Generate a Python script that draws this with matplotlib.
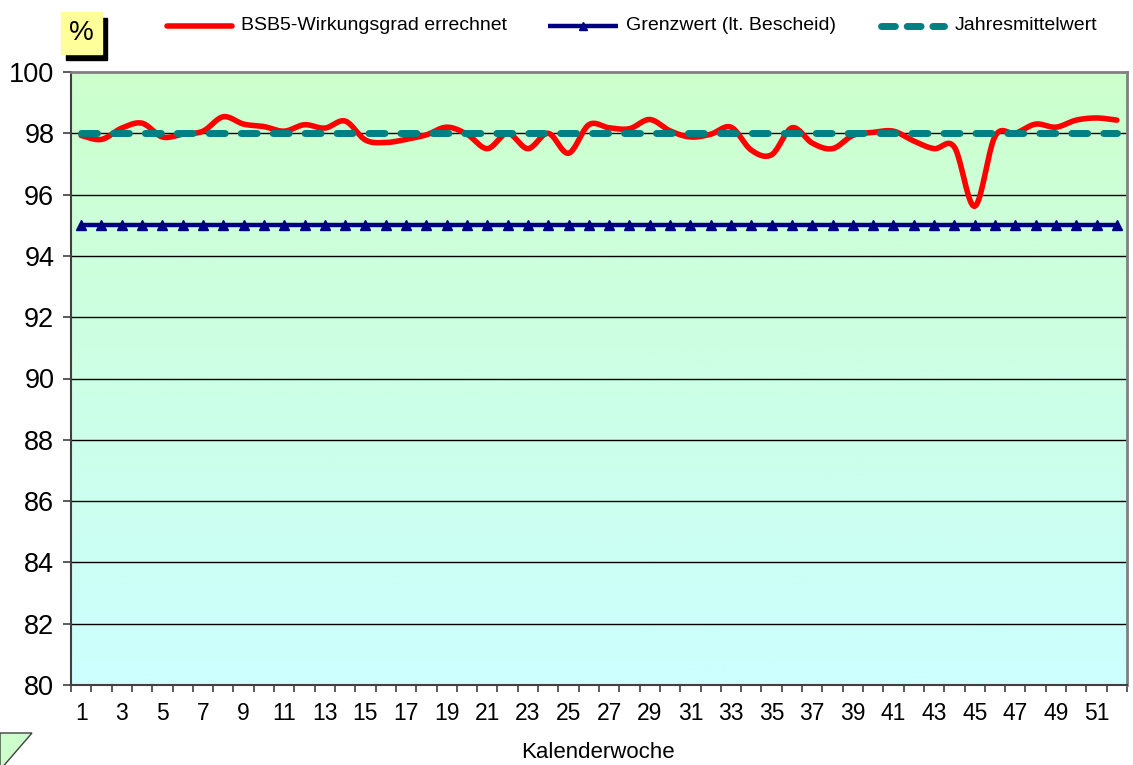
import numpy as np
import matplotlib
matplotlib.use("Agg")
import matplotlib.pyplot as plt
from matplotlib.lines import Line2D
from matplotlib.patches import Rectangle, Polygon

plt.rcParams['font.family'] = ['Liberation Sans', 'DejaVu Sans']

# Daten: BSB5-Wirkungsgrad je Kalenderwoche
wochen = np.arange(1, 53)
wirkungsgrad = [97.93, 97.80, 98.17, 98.33, 97.88, 97.97, 98.07, 98.54, 98.30, 98.22,
                98.07, 98.28, 98.17, 98.40, 97.78, 97.70, 97.80, 97.95, 98.20, 97.97,
                97.50, 98.00, 97.50, 98.00, 97.35, 98.28, 98.18, 98.15, 98.45, 98.08,
                97.88, 97.97, 98.20, 97.45, 97.30, 98.18, 97.68, 97.50, 97.93, 98.03,
                98.07, 97.75, 97.50, 97.55, 95.62, 97.90, 98.00, 98.30, 98.20, 98.43,
                98.50, 98.43]
grenzwert = [95.0] * 52
jahresmittel = [98.0] * 52
x_labels = [str(w) for w in range(1, 53, 2)]

legende = ["BSB5-Wirkungsgrad errechnet", "Grenzwert (lt. Bescheid)", "Jahresmittelwert"]


def glatt(x, y, n=20):
    # Excel-artige Glaettung (Bezier mit Catmull-Rom Kontrollpunkten)
    x = np.asarray(x, float)
    y = np.asarray(y, float)
    px = np.concatenate([[x[0]], x, [x[-1]]])
    py = np.concatenate([[y[0]], y, [y[-1]]])
    t = np.linspace(0, 1, n)[:, None]
    xs, ys = [], []
    for i in range(1, len(px) - 2):
        p0 = np.array([px[i], py[i]])
        p3 = np.array([px[i + 1], py[i + 1]])
        p1 = p0 + (np.array([px[i + 1], py[i + 1]]) - np.array([px[i - 1], py[i - 1]])) / 6
        p2 = p3 - (np.array([px[i + 2], py[i + 2]]) - np.array([px[i], py[i]])) / 6
        b = ((1 - t) ** 3) * p0 + 3 * ((1 - t) ** 2) * t * p1 + 3 * (1 - t) * t ** 2 * p2 + t ** 3 * p3
        xs.append(b[:, 0])
        ys.append(b[:, 1])
    return np.concatenate(xs), np.concatenate(ys)


W, H = 1133, 765
fig = plt.figure(figsize=(11.33, 7.65), dpi=100)
ax = fig.add_axes([71 / W, 1 - 685 / H, (1127 - 71) / W, (685 - 72) / H])

# Farbverlauf Hintergrund
verlauf = np.linspace(0, 1, 256)[:, None]
farben = np.zeros((256, 1, 3))
oben = np.array([204, 255, 204]) / 255
unten = np.array([204, 255, 255]) / 255
farben[:, 0, :] = oben * (1 - verlauf) + unten * verlauf
ax.imshow(farben, extent=[0.5, 52.5, 80, 100], aspect='auto', zorder=0)

ax.set_xlim(0.5, 52.5)
ax.set_ylim(80, 100)

for g in range(82, 100, 2):
    ax.axhline(g, color='black', lw=1.0, zorder=1)

ax.plot(wochen, grenzwert, color='#000080', lw=3.2, marker='^', markersize=7,
        zorder=3, solid_capstyle='butt')
ax.plot(wochen, jahresmittel, color='#008080', lw=5, dashes=(2.3, 2.3),
        dash_capstyle='round', zorder=4)
sx, sy = glatt(wochen, wirkungsgrad)
ax.plot(sx, sy, color='#FF0000', lw=4, zorder=3, solid_capstyle='round')

ax.set_yticks(range(80, 101, 2))
ax.set_xticks(np.arange(0.5, 53, 1))
ax.set_xticklabels([])
ax.set_xticks(range(1, 53, 2), minor=True)
ax.set_xticklabels(x_labels, minor=True, fontsize=16.5)
ax.tick_params(axis='x', which='major', direction='out', length=5, width=1.2, color='#404040')
ax.tick_params(axis='x', which='minor', length=0, pad=12)
ax.tick_params(axis='y', direction='out', length=6, width=1.2, color='#404040',
               labelsize=19.5, pad=6)

for s in ['top', 'right']:
    ax.spines[s].set_color('#808080')
    ax.spines[s].set_linewidth(2)
for s in ['left', 'bottom']:
    ax.spines[s].set_color('#404040')
    ax.spines[s].set_linewidth(1.5)

fig.text(598 / W, 1 - 752 / H, "Kalenderwoche", ha='center', va='center', fontsize=16)

# "%" Kasten mit Schatten
fig.patches.append(Rectangle((66 / W, 1 - 60 / H), 41 / W, 42 / H,
                             transform=fig.transFigure, color='black', zorder=1))
fig.patches.append(Rectangle((61 / W, 1 - 54 / H), 41 / W, 42 / H,
                             transform=fig.transFigure, color='#FFFF99', zorder=2))
fig.text(81.5 / W, 1 - 33 / H, "%", ha='center', va='center', fontsize=20, zorder=3)

# Legende
stile = [dict(color='#FF0000', lw=4, solid_capstyle='round'),
         dict(color='#000080', lw=3.2, marker='^', markersize=6, markevery=[1],
              solid_capstyle='butt'),
         dict(color='#008080', lw=5, dashes=(2.0, 1.7), dash_capstyle='round')]
linien = [(167, 232), (548, 618), (881, 944)]
text_x = [241, 626, 955]
for name, st, (x0, x1), tx in zip(legende, stile, linien, text_x):
    l = Line2D([x0 / W, (x0 + x1) / 2 / W, x1 / W], [1 - 26 / H] * 3,
               transform=fig.transFigure, **st)
    fig.lines.append(l)
    fig.text(tx / W, 1 - 26 / H, name, ha='left', va='center', fontsize=14)

# Dreieck unten links
fig.patches.append(Polygon([(0, 1 - 733 / H), (32 / W, 1 - 733 / H), (0, 1 - 770 / H)],
                           closed=True, transform=fig.transFigure, facecolor='#CCFFCC',
                           edgecolor='#404040', lw=1))

fig.savefig("out.png", dpi=100)
